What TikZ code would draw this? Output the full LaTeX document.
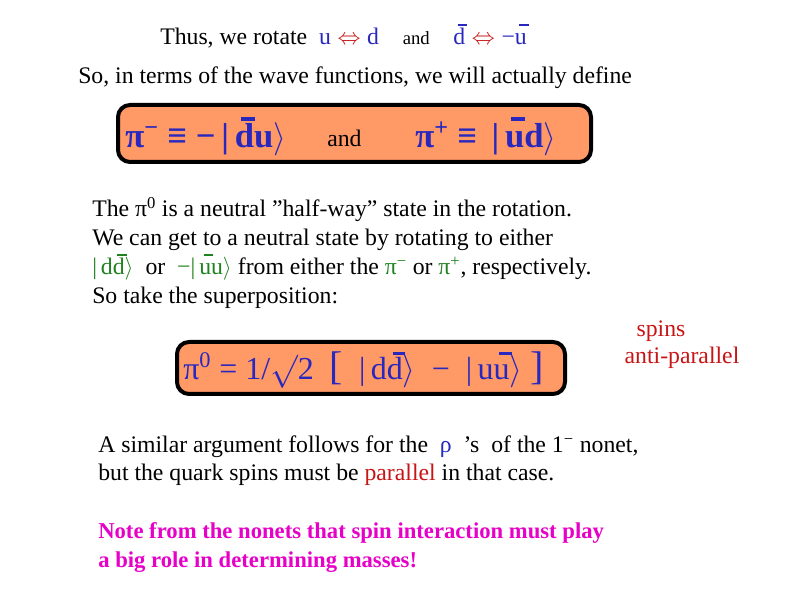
\documentclass[tikz,border=0pt]{standalone}
\usepackage{fontspec}
\setmainfont{Liberation Serif}
\definecolor{qblue}{RGB}{40,40,190}
\definecolor{qgreen}{RGB}{30,130,30}
\definecolor{qred}{RGB}{200,20,20}
\definecolor{qpink}{RGB}{230,0,200}
\definecolor{salmon}{RGB}{255,153,102}
% quark with a bar, bar set a little to the right
\newcommand{\qb}[1]{\leavevmode\rlap{\hspace{0.18em}\raisebox{0.78em}{\rule{0.4em}{0.1em}}}#1}
\newcommand{\kt}{$\rangle$}
\begin{document}
\begin{tikzpicture}[x=0.75pt,y=-0.75pt,
    txt/.style={anchor=base west,inner sep=0pt,font=\fontsize{17.8}{21}\selectfont},
    big/.style={anchor=base west,inner sep=0pt,font=\fontsize{26}{30}\selectfont\bfseries,text=qblue},
    slab/.style={draw=black,line width=3pt,fill=salmon,rounded corners=9pt}]
  \useasboundingbox (0,0) rectangle (794,595);
  \node[txt] (l1) at (160,45) {Thus, we rotate \ \textcolor{qblue}{u}\;\textcolor{qred}{$\Leftrightarrow$}\;\textcolor{qblue}{d} \ \ \ {\fontsize{14}{16}\selectfont and} \ \ \ \textcolor{qblue}{\qb{d}}\;\textcolor{qred}{$\Leftrightarrow$}\;\textcolor{qblue}{−\qb{u}}};
  \node[txt] (l2) at (78,84) {So, in terms of the wave functions, we will actually define};
  % first box
  \draw[slab] (118,105) rectangle (591,162);
  \node[big] (pim) at (125,148) {π\textsuperscript{−} ≡ −\,|\,\qb{d}u\kt};
  \node[txt] (and) at (327,147) {and};
  \node[big] (pip) at (415,148) {π\textsuperscript{+} ≡ \,|\,\qb{u}d\kt};
  % paragraph
  \node[txt] (p1) at (92,217) {The π\textsuperscript{0} is a neutral "half-way" state in the rotation.};
  \node[txt] (p2) at (92,246) {We can get to a neutral state by rotating to either};
  \node[txt] (p3) at (92,275) {\textcolor{qgreen}{|\,d\qb{d}\kt} \ or \ \textcolor{qgreen}{−|\,\qb{u}u\kt} from either the \textcolor{qgreen}{π\textsuperscript{−}} or \textcolor{qgreen}{π\textsuperscript{+}}, respectively.};
  \node[txt] (p4) at (92,304) {So take the superposition:};
  % second box
  \draw[slab] (177,342) rectangle (565,394);
  \node[big,font=\fontsize{24}{28}\selectfont] (pi0) at (183,380) {π\textsuperscript{0} = 1/$\surd$2 \ {\fontsize{30}{32}\selectfont[} \ |\,d\qb{d}\kt\ \ − \ |\,u\qb{u}\kt \ {\fontsize{30}{32}\selectfont]}};
  \node[txt,anchor=base,text=qred] (sp) at (661,337) {spins};
  \node[txt,anchor=base,text=qred] (ap) at (682,364) {anti-parallel};
  % rho paragraph
  \node[txt] (r1) at (98,453) {A similar argument follows for the \ \textcolor{qblue}{ρ} \ ’s \ of the 1\textsuperscript{−} nonet,};
  \node[txt] (r2) at (98,481) {but the quark spins must be \textcolor{qred}{parallel} in that case.};
  \node[txt,font=\fontsize{17}{20}\selectfont\bfseries,text=qpink] (n1) at (98,539) {Note from the nonets that spin interaction must play};
  \node[txt,font=\fontsize{17}{20}\selectfont\bfseries,text=qpink] (n2) at (98,568) {a big role in determining masses!};
\end{tikzpicture}
\end{document}
